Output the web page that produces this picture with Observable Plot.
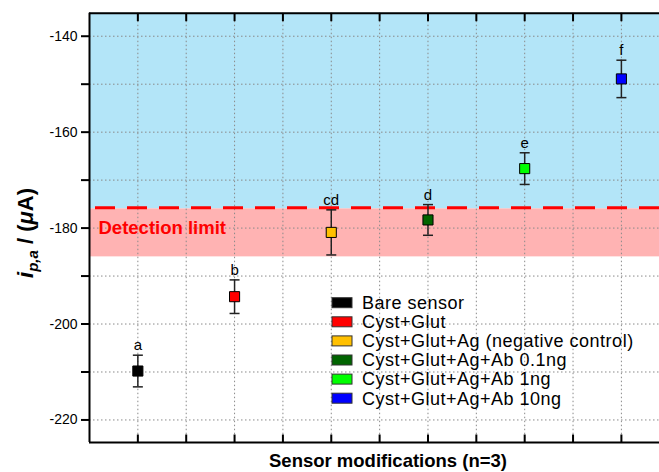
<!DOCTYPE html>
<html>
<head>
<meta charset="utf-8">
<script src="https://cdn.jsdelivr.net/npm/d3@7"></script>
<script src="https://cdn.jsdelivr.net/npm/@observablehq/plot@0.6"></script>
<style>
  html, body { margin: 0; padding: 0; background: #fff; }
  #chart { position: relative; width: 659px; height: 472px; overflow: hidden; }
</style>
</head>
<body>
<div id="chart"></div>
<script>
const categories = ["Bare sensor", "Cyst+Glut", "Cyst+Glut+Ag (negative control)", "Cyst+Glut+Ag+Ab 0.1ng", "Cyst+Glut+Ag+Ab 1ng", "Cyst+Glut+Ag+Ab 10ng"];
const positions = [1, 2, 3, 4, 5, 6];
const means = [-209.8, -194.3, -180.9, -178.3, -167.6, -148.9];
const errors = [3.3, 3.5, 4.7, 3.2, 3.3, 3.9];
const letters = ["a", "b", "cd", "d", "e", "f"];
const colors = ["#000000", "#ff0000", "#ffc000", "#006400", "#00ff00", "#0000ff"];
const yTicks = [-220, -210, -200, -190, -180, -170, -160, -150, -140];
const xGrid = [1, 1.5, 2, 2.5, 3, 3.5, 4, 4.5, 5, 5.5, 6];
const detectionLimit = -176;
const detectionBandLow = -186;
const yDomain = [-224.7, -135.2];
const xDomain = [0.5, 6.394];

const data = positions.map((x, i) => ({
  x, name: categories[i], mean: means[i], err: errors[i],
  lo: means[i] - errors[i], hi: means[i] + errors[i],
  letter: letters[i], color: colors[i]
}));

const capSymbol = { draw(ctx, size) { ctx.moveTo(-5, 0); ctx.lineTo(5, 0); } };
const tickUp = { draw(ctx) { ctx.moveTo(0, 0); ctx.lineTo(0, -8); } };
const tickDown = { draw(ctx) { ctx.moveTo(0, 0); ctx.lineTo(0, 8); } };

const plot = Plot.plot({
  width: 659,
  height: 472,
  marginLeft: 89,
  marginRight: 0,
  marginTop: 12.7,
  marginBottom: 30,
  style: { fontFamily: "Liberation Sans, Arial, sans-serif", fontSize: "14px", background: "transparent" },
  x: { domain: xDomain, axis: null },
  y: { domain: yDomain, axis: null },
  color: { type: "identity" },
  marks: [
    Plot.rect([{ y1: detectionLimit, y2: yDomain[1] }], { y1: "y1", y2: "y2", fill: "#b3e5f8" }),
    Plot.rect([{ y1: detectionBandLow, y2: detectionLimit }], { y1: "y1", y2: "y2", fill: "#ffb3b3" }),
    Plot.gridY(yTicks, { stroke: "#8a8a8a", strokeOpacity: 1, strokeWidth: 1, strokeDasharray: "1.5,2.5" }),
    Plot.gridX(xGrid, { stroke: "#8a8a8a", strokeOpacity: 1, strokeWidth: 1, strokeDasharray: "1.5,2.5" }),
    Plot.ruleY([detectionLimit + 0.25], { stroke: "#ff0000", strokeWidth: 3, strokeDasharray: "20,12", strokeDashoffset: -6 }),
    Plot.text(["Detection limit"], { x: xDomain[0], y: -180, dx: 9, text: d => d, textAnchor: "start", fill: "#ff0000", fontWeight: "bold", fontSize: 18.5 }),
    Plot.ruleX(data, { x: "x", y1: "lo", y2: "hi", stroke: "#222", strokeWidth: 1.5 }),
    Plot.dot(data, { x: "x", y: "hi", symbol: capSymbol, stroke: "#222", strokeWidth: 1.5, r: 5 }),
    Plot.dot(data, { x: "x", y: "lo", symbol: capSymbol, stroke: "#222", strokeWidth: 1.5, r: 5 }),
    Plot.dot(data, { x: "x", y: "mean", symbol: "square", r: 5.7, fill: "color", stroke: "#000", strokeWidth: 1 }),
    Plot.text(data, { x: "x", y: "hi", text: "letter", dy: -5, lineAnchor: "bottom", fontSize: 15, fill: "#000" }),
    Plot.axisY({ ticks: yTicks, tickSize: 8, tickPadding: 4, strokeWidth: 2, tickFormat: d => (d % 20 === 0 ? String(d) : ""), fontSize: 14, fill: "#000" }),
    Plot.dot(xGrid, { x: d => d, frameAnchor: "bottom", symbol: tickUp, stroke: "#000", strokeWidth: 2 }),
    Plot.dot(xGrid, { x: d => d, frameAnchor: "top", symbol: tickDown, stroke: "#000", strokeWidth: 2 }),
    Plot.ruleX([xDomain[0]], { stroke: "#000", strokeWidth: 2 }),
    Plot.ruleY([yDomain[0]], { stroke: "#000", strokeWidth: 2 }),
    Plot.ruleY([yDomain[1]], { stroke: "#000", strokeWidth: 2 })
  ]
});

document.getElementById("chart").appendChild(plot);

const svg = d3.select(plot);
// y-axis title with subscript
const yt = svg.append("text")
  .attr("transform", "translate(33,233) rotate(-90)")
  .attr("text-anchor", "middle")
  .attr("font-family", "Liberation Sans, Arial, sans-serif")
  .attr("font-size", 22)
  .attr("font-weight", "bold")
  .attr("fill", "#000");
yt.append("tspan").attr("font-style", "italic").text("i");
yt.append("tspan").attr("font-style", "italic").attr("font-size", 15).attr("dy", 5).text("p,a");
yt.append("tspan").attr("dy", -5).text(" / (");
yt.append("tspan").attr("font-style", "italic").text("\u03bc");
yt.append("tspan").text("A)");

// x-axis title
svg.append("text")
  .attr("x", 388).attr("y", 467)
  .attr("text-anchor", "middle")
  .attr("font-family", "Liberation Sans, Arial, sans-serif")
  .attr("font-size", 18.5)
  .attr("font-weight", "bold")
  .attr("fill", "#000")
  .text("Sensor modifications (n=3)");

// legend
const lg = svg.append("g")
  .attr("font-family", "Liberation Sans, Arial, sans-serif")
  .attr("font-size", 18)
  .attr("letter-spacing", 0.5)
  .attr("text-anchor", "start");
data.forEach((d, i) => {
  const cy = 302.7 + i * 19.1;
  lg.append("rect").attr("x", 332).attr("y", cy - 5).attr("width", 20).attr("height", 10)
    .attr("fill", d.color).attr("stroke", "#333").attr("stroke-width", 1);
  lg.append("text").attr("x", 362).attr("y", cy).attr("dy", "0.35em")
    .attr("text-anchor", "start").attr("fill", "#000").text(d.name);
});
</script>
</body>
</html>
